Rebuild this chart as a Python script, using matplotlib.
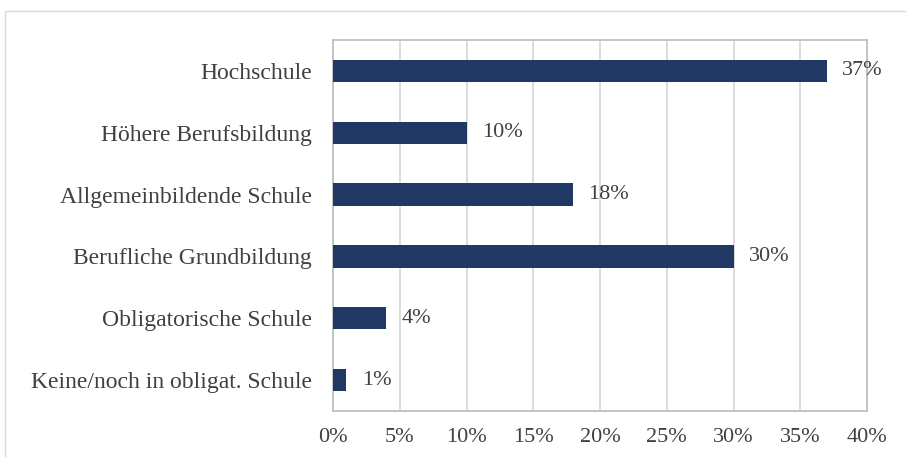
import matplotlib.pyplot as plt
from matplotlib.patches import Rectangle
from matplotlib.ticker import FuncFormatter

categories = ["Keine/noch in obligat. Schule", "Obligatorische Schule",
              "Berufliche Grundbildung", "Allgemeinbildende Schule",
              "Höhere Berufsbildung", "Hochschule"]
values = [1, 4, 30, 18, 10, 37]
xticks = [0, 5, 10, 15, 20, 25, 30, 35, 40]

plt.rcParams['font.family'] = ['Liberation Serif', 'DejaVu Serif']
txt = '#404040'
gridc = '#d9d9d9'

fig = plt.figure(figsize=(9.06, 4.57), dpi=100)
ax = fig.add_axes([333/906, 46/457, 534/906, 371/457])

ypos = range(len(categories))
ax.barh(ypos, values, height=0.36, color='#1f3864', zorder=3)
for y, v in zip(ypos, values):
    ax.annotate(f"{v}%", (v, y), xytext=(11, 0), textcoords='offset points',
                va='center', ha='left', fontsize=16, color=txt, zorder=4)

ax.set_xlim(0, 40)
ax.set_ylim(-0.5, len(categories) - 0.5)
ax.set_xticks(xticks)
ax.xaxis.set_major_formatter(FuncFormatter(lambda x, p: f"{x:.0f}%"))
ax.set_yticks(list(ypos))
ax.set_yticklabels(categories)
ax.tick_params(axis='both', length=0, labelcolor=txt)
ax.tick_params(axis='y', pad=15, labelsize=17)
ax.tick_params(axis='x', pad=12, labelsize=16)
ax.grid(axis='x', color=gridc, linewidth=1.3, zorder=0)
for s in ax.spines.values():
    s.set_color('#bfbfbf')
    s.set_linewidth(1.3)

fig.patches.append(Rectangle((5/906, -0.1), 1.2, (457 - 11)/457 + 0.1,
                             transform=fig.transFigure, fill=False,
                             edgecolor=gridc, linewidth=1, figure=fig))

fig.savefig('out.png', dpi=100)
